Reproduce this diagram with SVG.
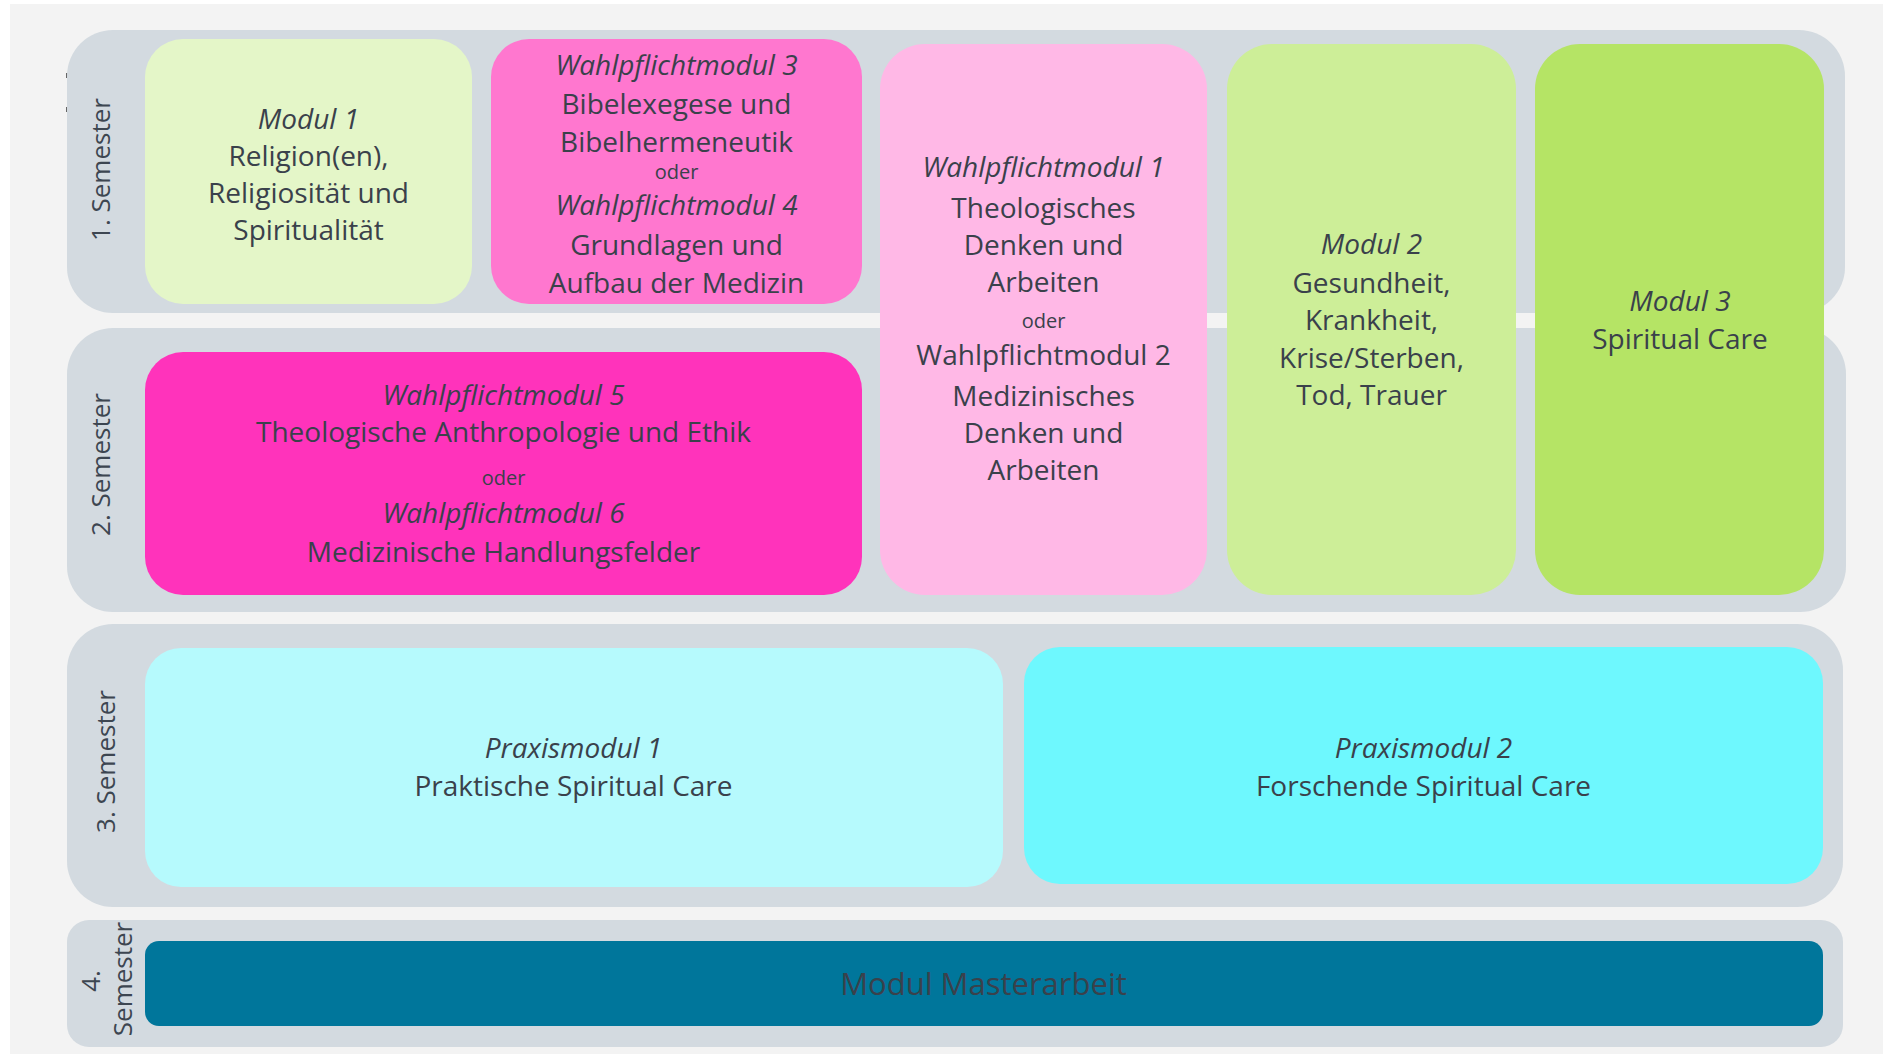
<svg xmlns="http://www.w3.org/2000/svg" width="1883" height="1054" viewBox="0 0 1883 1054">
<style>
.t{font-family:"Open Sans","Noto Sans","Liberation Sans",sans-serif;font-size:28px;fill:#3a414b;text-anchor:middle}
.i{font-style:italic}
.o{font-size:20px}
.sem{font-family:"Open Sans","Noto Sans","Liberation Sans",sans-serif;font-size:26px;fill:#3d4651;text-anchor:middle}
.panel{fill:#d3dae0}
</style>
<rect x="0" y="0" width="1883" height="1054" fill="#ffffff"/>
<rect x="10" y="4" width="1873" height="1050" fill="#f3f3f3"/>
<rect x="66" y="73" width="1.6" height="5" fill="#666"/>
<rect x="66" y="107" width="1.6" height="5" fill="#666"/>

<g id="semester1">
<rect class="panel" x="67" y="30" width="1778" height="283" rx="46"/>
<text class="sem" transform="translate(110,169.5) rotate(-90)">1. Semester</text>
</g>
<g id="semester2">
<rect class="panel" x="67" y="328" width="1779" height="284" rx="46"/>
<text class="sem" transform="translate(110,464.5) rotate(-90)">2. Semester</text>
</g>
<g id="semester3">
<rect class="panel" x="67" y="624" width="1776" height="283" rx="46"/>
<text class="sem" transform="translate(115,761.5) rotate(-90)">3. Semester</text>
</g>
<g id="semester4">
<rect class="panel" x="67" y="920" width="1776" height="127" rx="22"/>
<text class="sem" transform="translate(100,981) rotate(-90)">4.</text>
<text class="sem" transform="translate(132,979) rotate(-90)">Semester</text>
</g>

<g id="connectors"/>

<g id="modul1">
<rect x="145" y="39" width="327" height="265" rx="38" fill="#e4f6c8"/>
<text class="t i" x="308.5" y="129">Modul 1</text>
<text class="t" x="308.5" y="166">Religion(en),</text>
<text class="t" x="308.5" y="203">Religiosität und</text>
<text class="t" x="308.5" y="240">Spiritualität</text>
</g>

<g id="wpm3-4">
<rect x="491" y="39" width="371" height="265" rx="38" fill="#ff77cf"/>
<text class="t i" x="676.5" y="75">Wahlpflichtmodul 3</text>
<text class="t" x="676.5" y="114">Bibelexegese und</text>
<text class="t" x="676.5" y="151.5">Bibelhermeneutik</text>
<text class="t o" x="676.5" y="179">oder</text>
<text class="t i" x="676.5" y="215">Wahlpflichtmodul 4</text>
<text class="t" x="676.5" y="255">Grundlagen und</text>
<text class="t" x="676.5" y="292.5">Aufbau der Medizin</text>
</g>

<g id="wpm5-6">
<rect x="145" y="352" width="717" height="243" rx="38" fill="#ff33bb"/>
<text class="t i" x="503.5" y="405">Wahlpflichtmodul 5</text>
<text class="t" x="503.5" y="442">Theologische Anthropologie und Ethik</text>
<text class="t o" x="503.5" y="485">oder</text>
<text class="t i" x="503.5" y="523">Wahlpflichtmodul 6</text>
<text class="t" x="503.5" y="562">Medizinische Handlungsfelder</text>
</g>

<g id="wpm1-2">
<rect x="880" y="44" width="327" height="551" rx="45" fill="#ffb8e6"/>
<text class="t i" x="1043.5" y="177">Wahlpflichtmodul 1</text>
<text class="t" x="1043.5" y="218">Theologisches</text>
<text class="t" x="1043.5" y="255">Denken und</text>
<text class="t" x="1043.5" y="292">Arbeiten</text>
<text class="t o" x="1043.5" y="328">oder</text>
<text class="t" x="1043.5" y="365">Wahlpflichtmodul 2</text>
<text class="t" x="1043.5" y="405.5">Medizinisches</text>
<text class="t" x="1043.5" y="442.5">Denken und</text>
<text class="t" x="1043.5" y="479.5">Arbeiten</text>
</g>

<g id="modul2">
<rect x="1227" y="44" width="289" height="551" rx="45" fill="#cdee98"/>
<text class="t i" x="1371.5" y="254">Modul 2</text>
<text class="t" x="1371.5" y="292.5">Gesundheit,</text>
<text class="t" x="1371.5" y="330">Krankheit,</text>
<text class="t" x="1371.5" y="367.5">Krise/Sterben,</text>
<text class="t" x="1371.5" y="405">Tod, Trauer</text>
</g>

<g id="modul3">
<rect x="1535" y="44" width="289" height="551" rx="45" fill="#b5e465"/>
<text class="t i" x="1680" y="311">Modul 3</text>
<text class="t" x="1680" y="349">Spiritual Care</text>
</g>

<g id="praxismodul1">
<rect x="145" y="648" width="858" height="239" rx="36" fill="#b6fafd"/>
<text class="t i" x="573.5" y="758">Praxismodul 1</text>
<text class="t" x="573.5" y="796">Praktische Spiritual Care</text>
</g>

<g id="praxismodul2">
<rect x="1024" y="647" width="799" height="237" rx="36" fill="#6ef8fe"/>
<text class="t i" x="1423.5" y="758">Praxismodul 2</text>
<text class="t" x="1423.5" y="796">Forschende Spiritual Care</text>
</g>

<g id="masterarbeit">
<rect x="145" y="941" width="1678" height="85" rx="14" fill="#00769b"/>
<text class="t" x="983.5" y="995" style="font-size:31px">Modul Masterarbeit</text>
</g>
</svg>
